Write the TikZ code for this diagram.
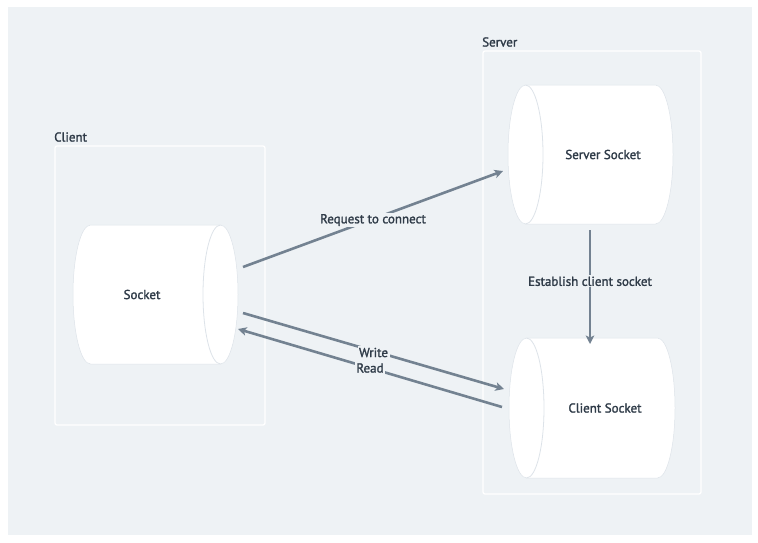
\documentclass[tikz,border=0pt]{standalone}
\usepackage{fontspec}
\setmainfont[FakeBold=1.6]{PT Sans}
\usetikzlibrary{arrows.meta}
\definecolor{bgc}{HTML}{EEF2F5}
\definecolor{txtc}{HTML}{2F3B48}
\definecolor{arrc}{HTML}{738291}
\definecolor{capc}{HTML}{DDE3E9}
\tikzset{
  x=1pt,y=1pt,
  cylbox/.style={rectangle,inner sep=0,outer sep=0,draw=none},
  txt/.style={text=txtc,font=\fontsize{13}{15}\selectfont,inner sep=0},
  grouplbl/.style={text=txtc,font=\fontsize{13}{15}\selectfont,inner sep=0,anchor=west},
  grp/.style={draw=white,line width=1.3pt,rounded corners=2pt},
  arr/.style={draw=arrc,line width=2.6pt,-{Stealth[length=8.5pt,width=8.5pt,inset=2pt]}},
  elbl/.style={fill=bgc,text=txtc,font=\fontsize{13}{15}\selectfont,inner sep=1.5pt},
  body/.style={fill=white,draw=capc,line width=0.5pt},
  capline/.style={draw=capc,line width=0.8pt}
}
\begin{document}
\begin{tikzpicture}
\useasboundingbox (0,0) rectangle (758,-542);
\fill[white] (0,0) rectangle (758,-542);
\fill[bgc] (8,-7) rectangle (752,-535);
% group boxes
\draw[grp] (55,-146) rectangle (265,-425);
\draw[grp] (483,-51) rectangle (701,-494);
\node[grouplbl] (lclient) at (54,-137) {Client};
\node[grouplbl] (lserver) at (482,-42) {Server};
% Socket (cap right)
\path[body] (90.5,-225) -- (220.5,-225) arc[start angle=90,end angle=-90,x radius=17.5,y radius=69.5] -- (90.5,-364) arc[start angle=270,end angle=90,x radius=17.5,y radius=69.5] -- cycle;
\draw[capline] (220.5,-225) arc[start angle=90,end angle=270,x radius=17.5,y radius=69.5];
\node[cylbox,minimum width=165pt,minimum height=139pt,label={[txt,xshift=-13.5pt]center:Socket}] (sock) at (155.5,-294.5) {};
% Server Socket (cap left)
\path[body] (525.5,-85) -- (655.5,-85) arc[start angle=90,end angle=-90,x radius=17.5,y radius=69.5] -- (525.5,-224) arc[start angle=270,end angle=90,x radius=17.5,y radius=69.5] -- cycle;
\draw[capline] (525.5,-85) arc[start angle=90,end angle=-90,x radius=17.5,y radius=69.5];
\node[cylbox,minimum width=165pt,minimum height=139pt,label={[txt,xshift=12.5pt]center:Server Socket}] (srv) at (590.5,-154.5) {};
% Client Socket (cap left)
\path[body] (526.5,-338) -- (657.5,-338) arc[start angle=90,end angle=-90,x radius=17.5,y radius=70] -- (526.5,-478) arc[start angle=270,end angle=90,x radius=17.5,y radius=70] -- cycle;
\draw[capline] (526.5,-338) arc[start angle=90,end angle=-90,x radius=17.5,y radius=70];
\node[cylbox,minimum width=166pt,minimum height=140pt,label={[txt,xshift=13pt]center:Client Socket}] (cli) at (592,-408) {};
% connectors
\draw[arr] ([shift={(5,27.5)}]sock.east) -- node[elbl,yshift=-1pt] {Request to connect} ([shift={(-5,-16.5)}]srv.west);
\draw[arr] ([shift={(-0.5,-6)}]srv.south) -- node[elbl,pos=0.45] {Establish client socket} ([shift={(-2,-6)}]cli.north);
\draw[arr] ([shift={(5,-18.5)}]sock.east) -- node[elbl,yshift=-1.5pt] {Write} ([shift={(-5,19)}]cli.west);
\draw[arr] ([shift={(-7,1)}]cli.west) -- node[elbl] {Read} ([shift={(0,-34.5)}]sock.east);
\end{tikzpicture}
\end{document}
